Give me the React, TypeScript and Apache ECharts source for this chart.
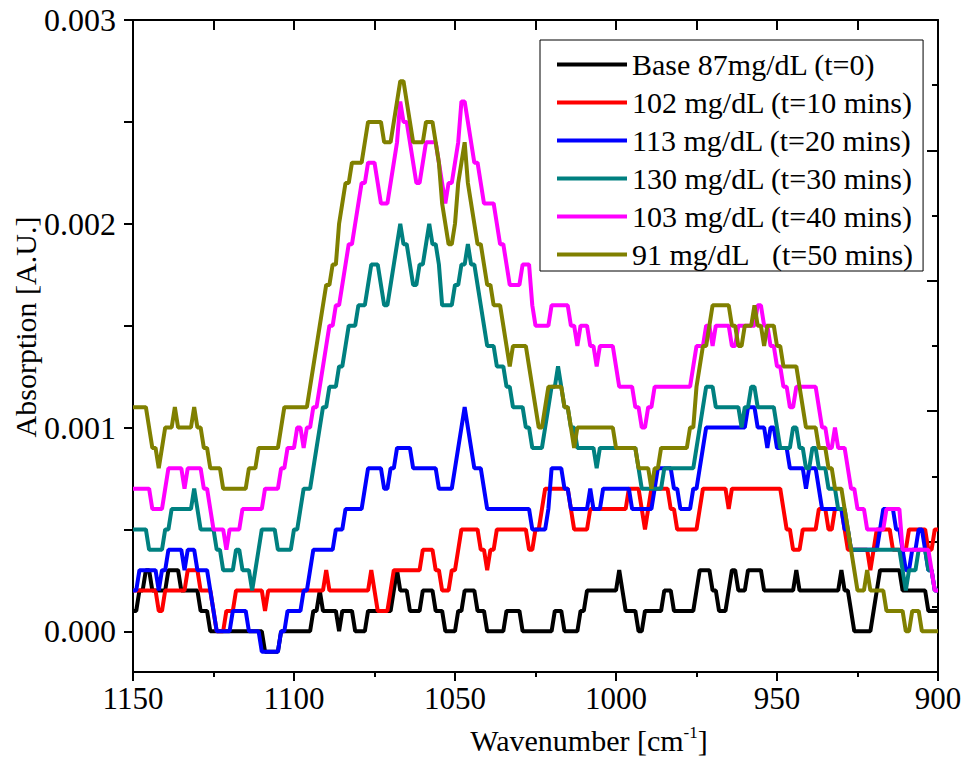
import React, { useEffect, useRef } from "react";
import * as echarts from "echarts";

// Wavenumber grid (cm^-1), sampled every 1 cm^-1 from 1150 down to 900
const WAVENUMBERS: number[] = [];
for (let w = 1150; w >= 900; w--) WAVENUMBERS.push(w);

// Absorption values, in units of 1e-4 A.U., one value per wavenumber above
const ABS_UNIT = 0.0001;

const BASE_T0 = [
  1, 1, 2, 2, 3, 3, 2, 2, 2, 2,
  2, 3, 3, 3, 3, 2, 2, 2, 2, 2,
  2, 1, 1, 1, 0, 0, 0, 0, 0, 0,
  0, 0, 0, 0, 0, 0, 0, 0, 0, 0,
  0, -1, -1, -1, -1, -1, 0, 0, 0, 0,
  0, 0, 0, 0, 0, 0, 1, 1, 2, 1,
  1, 1, 1, 1, 0, 1, 1, 1, 1, 0,
  0, 0, 0, 1, 1, 1, 1, 1, 1, 1,
  1, 2, 3, 2, 2, 2, 1, 1, 1, 1,
  2, 2, 2, 2, 1, 1, 1, 0, 0, 0,
  0, 1, 1, 2, 2, 2, 2, 1, 1, 1,
  0, 0, 0, 0, 0, 0, 1, 1, 1, 1,
  1, 0, 0, 0, 0, 0, 0, 0, 0, 0,
  0, 1, 1, 1, 0, 0, 0, 0, 0, 1,
  1, 2, 2, 2, 2, 2, 2, 2, 2, 2,
  2, 3, 2, 1, 1, 1, 1, 0, 0, 1,
  1, 1, 1, 1, 1, 2, 2, 2, 1, 1,
  1, 1, 1, 1, 1, 2, 3, 3, 3, 3,
  2, 2, 1, 1, 1, 2, 3, 3, 2, 2,
  2, 3, 3, 3, 3, 3, 2, 2, 2, 2,
  2, 2, 2, 2, 2, 2, 3, 2, 2, 2,
  2, 2, 2, 2, 2, 2, 2, 2, 2, 2,
  3, 2, 2, 1, 0, 0, 0, 0, 0, 0,
  1, 2, 3, 3, 3, 3, 3, 3, 3, 2,
  2, 2, 2, 2, 2, 2, 2, 1, 1, 1,
  1,
];

const T10 = [
  2, 2, 2, 2, 2, 2, 2, 2, 1, 1,
  2, 2, 2, 2, 2, 2, 2, 3, 3, 3,
  3, 2, 2, 2, 2, 1, 0, 0, 0, 1,
  1, 1, 2, 2, 2, 2, 2, 2, 2, 2,
  2, 1, 2, 2, 2, 2, 2, 2, 2, 2,
  2, 2, 2, 2, 2, 2, 2, 2, 2, 2,
  3, 2, 2, 2, 2, 2, 2, 2, 2, 2,
  2, 2, 2, 2, 3, 2, 1, 1, 1, 1,
  2, 3, 3, 3, 3, 3, 3, 3, 3, 3,
  4, 4, 4, 4, 3, 3, 2, 2, 2, 3,
  3, 4, 5, 5, 5, 5, 5, 5, 4, 4,
  3, 4, 4, 5, 5, 5, 5, 5, 5, 5,
  5, 5, 5, 4, 4, 5, 5, 6, 7, 7,
  7, 7, 7, 7, 7, 7, 6, 5, 5, 5,
  5, 5, 6, 6, 6, 6, 6, 6, 6, 6,
  6, 6, 6, 6, 7, 7, 7, 7, 6, 5,
  6, 7, 7, 7, 7, 7, 7, 6, 6, 5,
  5, 5, 5, 5, 5, 5, 6, 7, 7, 7,
  7, 7, 7, 7, 7, 6, 7, 7, 7, 7,
  7, 7, 7, 7, 7, 7, 7, 7, 7, 7,
  7, 7, 6, 5, 5, 4, 4, 4, 5, 5,
  5, 5, 5, 6, 6, 6, 5, 5, 6, 6,
  6, 5, 4, 4, 4, 4, 4, 4, 4, 3,
  4, 5, 5, 5, 5, 5, 4, 4, 4, 4,
  4, 5, 5, 5, 5, 5, 5, 4, 4, 5,
  5,
];

const T20 = [
  2, 2, 3, 3, 3, 3, 3, 3, 2, 3,
  3, 4, 4, 4, 4, 4, 3, 4, 4, 4,
  3, 3, 3, 3, 2, 1, 0, 0, 0, 0,
  0, 1, 1, 1, 1, 1, 0, 0, 0, 0,
  -1, -1, -1, -1, -1, -1, 0, 0, 1, 1,
  1, 1, 1, 2, 2, 3, 4, 4, 4, 4,
  4, 4, 4, 5, 5, 5, 6, 6, 6, 6,
  6, 6, 7, 8, 8, 8, 8, 8, 7, 7,
  8, 8, 9, 9, 9, 9, 9, 8, 8, 8,
  8, 8, 8, 8, 8, 7, 7, 7, 7, 7,
  8, 9, 10, 11, 10, 9, 8, 8, 8, 7,
  6, 6, 6, 6, 6, 6, 6, 6, 6, 6,
  6, 6, 6, 6, 5, 5, 5, 5, 5, 6,
  8, 8, 8, 8, 7, 7, 6, 6, 6, 6,
  6, 6, 7, 6, 6, 6, 7, 7, 7, 7,
  7, 7, 7, 7, 7, 6, 6, 6, 6, 6,
  6, 6, 7, 8, 8, 8, 8, 8, 7, 7,
  6, 6, 6, 6, 7, 7, 8, 9, 10, 10,
  10, 10, 10, 10, 10, 10, 10, 10, 10, 10,
  10, 11, 11, 11, 10, 10, 10, 9, 10, 10,
  9, 9, 9, 9, 8, 8, 8, 8, 8, 7,
  8, 8, 8, 7, 6, 6, 6, 6, 6, 6,
  6, 5, 5, 4, 4, 4, 4, 4, 4, 4,
  4, 4, 5, 6, 6, 6, 6, 5, 5, 4,
  3, 3, 4, 4, 5, 5, 4, 3, 3, 2,
  2,
];

const T30 = [
  5, 5, 5, 5, 5, 4, 4, 4, 4, 4,
  5, 5, 6, 6, 6, 6, 6, 6, 6, 7,
  6, 5, 5, 5, 5, 5, 4, 4, 3, 3,
  3, 3, 4, 4, 3, 3, 3, 2, 3, 4,
  5, 5, 5, 5, 5, 4, 4, 4, 4, 4,
  5, 5, 6, 7, 7, 7, 8, 9, 10, 11,
  11, 12, 12, 12, 13, 13, 14, 15, 15, 15,
  16, 16, 16, 17, 18, 18, 18, 17, 16, 16,
  17, 18, 19, 20, 19, 19, 18, 17, 17, 18,
  18, 19, 20, 19, 19, 18, 16, 16, 16, 16,
  17, 17, 18, 18, 19, 18, 18, 17, 16, 15,
  14, 14, 14, 13, 13, 13, 12, 12, 11, 11,
  11, 11, 10, 10, 9, 9, 9, 9, 10, 11,
  12, 12, 13, 12, 11, 11, 10, 10, 9, 9,
  9, 9, 9, 9, 8, 9, 9, 9, 9, 9,
  9, 9, 9, 9, 9, 9, 9, 8, 7, 7,
  7, 7, 7, 7, 7, 8, 8, 8, 8, 8,
  8, 8, 8, 8, 8, 9, 10, 11, 12, 12,
  12, 11, 11, 11, 11, 11, 11, 11, 11, 10,
  11, 11, 12, 12, 11, 11, 11, 11, 11, 11,
  10, 9, 9, 9, 9, 10, 10, 9, 9, 8,
  8, 9, 9, 8, 8, 8, 7, 7, 7, 6,
  6, 6, 5, 4, 4, 4, 4, 4, 4, 4,
  4, 4, 4, 4, 4, 4, 4, 4, 4, 3,
  2, 3, 3, 3, 4, 4, 4, 3, 3, 2,
  2,
];

const T40 = [
  7, 7, 7, 7, 7, 7, 6, 6, 6, 6,
  7, 8, 8, 8, 8, 8, 7, 8, 8, 8,
  8, 8, 7, 7, 6, 5, 5, 5, 5, 4,
  5, 5, 5, 5, 6, 6, 6, 6, 6, 6,
  6, 7, 7, 7, 7, 7, 8, 8, 9, 9,
  9, 10, 10, 9, 10, 10, 11, 11, 12, 13,
  14, 15, 15, 16, 16, 17, 18, 19, 19, 20,
  21, 22, 22, 23, 23, 23, 22, 21, 21, 21,
  22, 23, 24, 26, 25, 25, 24, 23, 22, 22,
  23, 24, 24, 24, 24, 23, 22, 21, 22, 22,
  23, 24, 26, 26, 25, 24, 23, 23, 22, 21,
  21, 21, 21, 20, 19, 19, 18, 17, 17, 17,
  17, 18, 18, 18, 16, 15, 15, 15, 15, 15,
  16, 16, 16, 16, 16, 16, 15, 15, 14, 15,
  15, 15, 14, 14, 13, 14, 14, 14, 14, 14,
  13, 12, 12, 12, 12, 12, 11, 11, 10, 10,
  11, 11, 12, 12, 12, 12, 12, 12, 12, 12,
  12, 12, 12, 12, 13, 14, 14, 14, 15, 15,
  14, 15, 15, 15, 15, 15, 14, 14, 15, 15,
  15, 15, 15, 15, 16, 16, 15, 15, 14, 14,
  13, 13, 12, 12, 11, 11, 12, 12, 12, 12,
  12, 12, 12, 11, 10, 10, 9, 9, 10, 9,
  9, 9, 8, 7, 7, 6, 6, 6, 5, 5,
  5, 5, 5, 5, 6, 6, 6, 6, 6, 4,
  4, 4, 4, 4, 4, 4, 4, 4, 3, 2,
  2,
];

const T50 = [
  11, 11, 11, 11, 11, 10, 9, 9, 8, 9,
  10, 10, 10, 11, 10, 10, 10, 10, 10, 11,
  10, 10, 9, 9, 8, 8, 8, 8, 7, 7,
  7, 7, 7, 7, 7, 7, 8, 8, 8, 9,
  9, 9, 9, 9, 9, 9, 10, 11, 11, 11,
  11, 11, 11, 11, 11, 12, 13, 14, 15, 16,
  17, 17, 18, 18, 20, 21, 22, 22, 23, 23,
  23, 23, 24, 25, 25, 25, 25, 25, 24, 24,
  24, 25, 26, 27, 27, 26, 25, 24, 24, 24,
  24, 25, 25, 25, 24, 23, 21, 20, 19, 19,
  20, 22, 23, 24, 22, 21, 20, 19, 19, 18,
  17, 17, 16, 16, 16, 15, 14, 13, 14, 14,
  14, 14, 14, 13, 12, 11, 10, 10, 11, 12,
  12, 12, 12, 12, 11, 11, 10, 9, 10, 10,
  10, 10, 10, 10, 10, 10, 10, 10, 10, 10,
  9, 9, 9, 9, 9, 9, 9, 8, 8, 8,
  8, 7, 8, 8, 9, 9, 9, 9, 9, 9,
  9, 9, 9, 10, 10, 12, 13, 14, 14, 15,
  16, 16, 16, 16, 16, 16, 15, 15, 14, 14,
  15, 15, 15, 16, 15, 15, 14, 15, 15, 15,
  14, 14, 13, 13, 13, 13, 13, 12, 11, 10,
  10, 10, 10, 9, 9, 9, 8, 8, 7, 7,
  7, 6, 5, 4, 3, 2, 2, 2, 3, 2,
  2, 2, 2, 2, 1, 1, 1, 1, 1, 1,
  0, 0, 1, 1, 1, 0, 0, 0, 0, 0,
  0,
];

const SERIES_VALUES = [BASE_T0, T10, T20, T30, T40, T50];
const SERIES_NAMES = [
  "Base 87mg/dL (t=0)",
  "102 mg/dL (t=10 mins)",
  "113 mg/dL (t=20 mins)",
  "130 mg/dL (t=30 mins)",
  "103 mg/dL (t=40 mins)",
  "91 mg/dL\u00a0\u00a0\u00a0(t=50 mins)",
];
const SERIES_COLORS = ["#000000", "#ff0000", "#0000ff", "#008080", "#ff00ff", "#808000"];

const Y_TICK_LABELS = [0, 0.001, 0.002, 0.003];
const Y_TICKS = [0, 0.0005, 0.001, 0.0015, 0.002, 0.0025, 0.003];

const FONT = '"Liberation Serif", "Times New Roman", serif';

export default function App() {
  const ref = useRef<HTMLDivElement>(null);

  useEffect(() => {
    if (!ref.current) return;
    const chart = echarts.init(ref.current, undefined, { renderer: "svg" });

    const series = SERIES_VALUES.map((vals, k) => ({
      name: SERIES_NAMES[k],
      type: "line",
      xAxisIndex: 0,
      yAxisIndex: 0,
      data: WAVENUMBERS.map((w, i) => [w, vals[i] * ABS_UNIT]),
      symbol: "none",
      showSymbol: false,
      color: SERIES_COLORS[k],
      lineStyle: { color: SERIES_COLORS[k], width: 4 },
    }));

    const axisLineStyle = { color: "#000", width: 2 };

    const option: any = {
      animation: false,
      backgroundColor: "#fff",
      grid: { left: 133, right: 30, top: 20, bottom: 89, containLabel: false },
      xAxis: [
        {
          type: "value",
          position: "bottom",
          min: 900,
          max: 1150,
          interval: 50,
          inverse: true,
          axisLine: { show: true, onZero: false, lineStyle: axisLineStyle },
          axisTick: { show: true, inside: false, length: 9, lineStyle: axisLineStyle },
          minorTick: { show: true, splitNumber: 2, length: 5, lineStyle: axisLineStyle },
          axisLabel: {
            color: "#000",
            fontFamily: FONT,
            fontSize: 31,
            margin: 11,
            formatter: (v: number) => String(v),
          },
          splitLine: { show: false },
        },
        {
          type: "value",
          position: "top",
          min: 900,
          max: 1150,
          interval: 25,
          inverse: true,
          axisLine: { show: true, onZero: false, lineStyle: axisLineStyle },
          axisTick: { show: true, inside: true, length: 10, lineStyle: axisLineStyle },
          axisLabel: { show: false },
          splitLine: { show: false },
        },
      ],
      yAxis: [
        {
          type: "value",
          position: "left",
          min: -0.0002,
          max: 0.003,
          axisLine: { show: true, onZero: false, lineStyle: axisLineStyle },
          axisTick: {
            show: true,
            inside: false,
            length: 9,
            customValues: Y_TICKS,
            lineStyle: axisLineStyle,
          },
          axisLabel: {
            color: "#000",
            fontFamily: FONT,
            fontSize: 32,
            margin: 17,
            customValues: Y_TICK_LABELS,
            formatter: (v: number) => v.toFixed(3),
          },
          splitLine: { show: false },
        },
        {
          type: "value",
          position: "right",
          min: 0,
          max: 5,
          interval: 1,
          axisLine: { show: true, onZero: false, lineStyle: axisLineStyle },
          axisTick: { show: true, inside: true, length: 11, lineStyle: axisLineStyle },
          minorTick: { show: true, splitNumber: 2, length: 6, lineStyle: axisLineStyle },
          axisLabel: { show: false },
          splitLine: { show: false },
        },
      ],
      legend: {
        show: true,
        orient: "vertical",
        left: 540,
        top: 40,
        icon: "rect",
        itemWidth: 70,
        itemHeight: 4,
        itemGap: 7,
        padding: [9, 10, 1, 17],
        borderColor: "#000",
        borderWidth: 1,
        backgroundColor: "#fff",
        textStyle: { color: "#000", fontFamily: FONT, fontSize: 30, lineHeight: 31 },
        data: SERIES_NAMES,
      },
      graphic: [
        {
          type: "text",
          x: 589,
          y: 740,
          style: {
            text: "{n|Wavenumber [cm}{s|-1}{n|]}",
            textAlign: "center",
            textVerticalAlign: "middle",
            rich: {
              n: { fontFamily: FONT, fontSize: 30, fill: "#000", lineHeight: 32 },
              s: { fontFamily: FONT, fontSize: 17, fill: "#000", lineHeight: 32, verticalAlign: "top" },
            },
          },
        },
        {
          type: "text",
          x: 25,
          y: 327,
          rotation: Math.PI / 2,
          style: {
            text: "Absorption [A.U.]",
            fontFamily: FONT,
            fontSize: 30,
            fill: "#000",
            textAlign: "center",
            textVerticalAlign: "middle",
          },
        },
      ],
      series,
    };

    chart.setOption(option);
    return () => chart.dispose();
  }, []);

  return (
    <div
      ref={ref}
      style={{ position: "fixed", left: 0, top: 0, width: 968, height: 761, background: "#fff" }}
    />
  );
}
